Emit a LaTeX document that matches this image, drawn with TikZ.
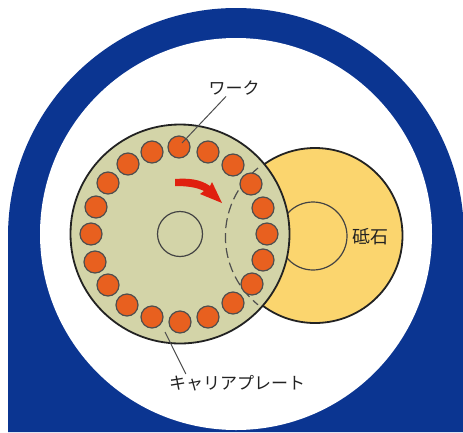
\documentclass[tikz,border=0pt]{standalone}
\usepackage{fontspec}
\usepackage{tikz}
\usetikzlibrary{positioning}
\newfontfamily\jpfont{Noto Sans CJK JP}
\definecolor{bandblue}{HTML}{0B3591}
\definecolor{platecol}{HTML}{D3D4A8}
\definecolor{stonecol}{HTML}{FBD56E}
\definecolor{workcol}{HTML}{E8601F}
\definecolor{arrowcol}{HTML}{E0200F}
\definecolor{inkcol}{HTML}{222222}
\tikzset{
    lbl/.style={font=\jpfont\fontsize{17}{18}\selectfont, text=inkcol, inner sep=1pt},
    leader/.style={draw=inkcol!80, line width=1pt},
    rim/.style={draw=inkcol, line width=1.8pt},
    hole/.style={draw=inkcol!85, line width=1.2pt}
}
\newcommand{\work}[2]{ \draw[draw=inkcol!80, line width=1.2pt, fill=workcol] ( #1 , #2 ) circle (11pt);}

\begin{document}
\begin{tikzpicture}[x=1pt,y=-1pt]
        \clip (0,0) rectangle (463,432);
        % blue arch
        \fill[bandblue] (8,432) -- (8,236) arc (180:360:228) -- (464,432) -- cycle;
        \fill[white] (236,234) circle (196pt);
        % grinding stone
        \draw[rim, fill=stonecol] (315,235.5) circle (87.5pt);
        \draw[hole] (313,236) circle (34pt);
        % carrier plate
        \draw[rim, fill=platecol] (180,234) circle (109.5pt);
        \draw[hole] (180,234) circle (22.5pt);
        % stone edge under the plate
        \draw[draw=inkcol!80, line width=1.2pt, dash pattern=on 10pt off 5pt] (258,168) arc (231:129:88);
        % works, right half
        \work{179}{147}
        \work{208}{152}
        \work{233}{165}
        \work{251}{184}
        \work{263}{208}
        \work{267}{234}
        \work{263}{260}
        \work{252}{284}
        \work{233}{303}
        \work{208}{317}
        % works, left half
        \work{180}{322}
        \work{152}{317}
        \work{127}{305}
        \work{108}{285}
        \work{95}{262}
        \work{91}{234}
        \work{96}{207}
        \work{108}{183}
        \work{128}{164}
        \work{152}{152}
        % rotation arrow
        \fill[arrowcol] (175,179) .. controls (188,178) and (200,179) .. (210,186)
            -- (212,182) -- (222,203) -- (200,194) -- (204,191)
            .. controls (196,187) and (186,186) .. (175,186) -- cycle;
        % labels
        \node[lbl] (worklabel) at (234,88) {ワーク};
        \node[lbl] (platelabel) at (237,383) {キャリアプレート};
        \node[lbl, font=\jpfont\fontsize{18}{20}\selectfont] (stonelabel) at (370,237) {砥石};
        % leaders
        \coordinate (workend) at (182,143);
        \coordinate (plateend) at (165,332);
        \draw[leader] (worklabel) -- (workend);
        \draw[leader] ([xshift=18pt]platelabel.north west) -- (plateend);
    \end{tikzpicture}
\end{document}
